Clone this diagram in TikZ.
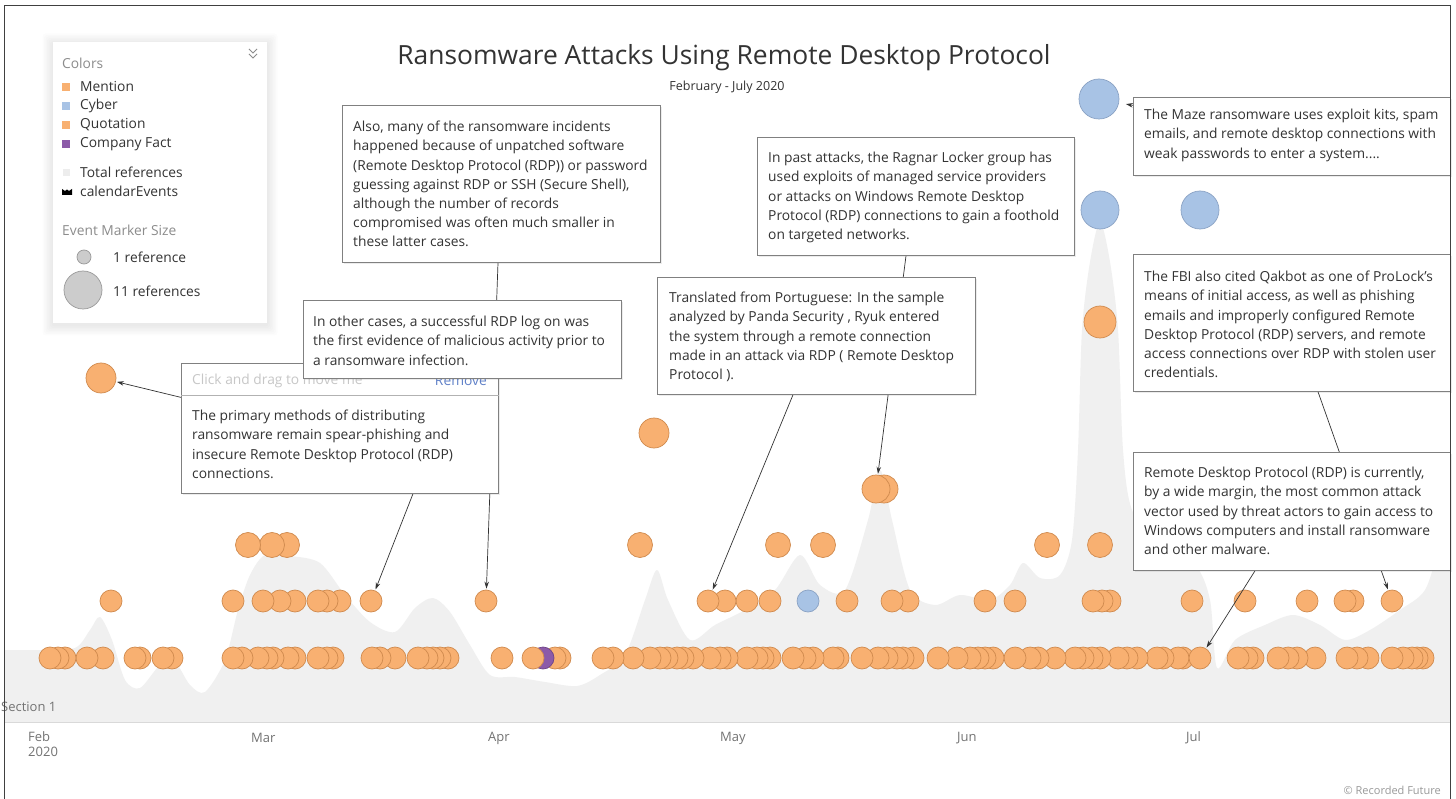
\documentclass[tikz,border=0pt]{standalone}
\usepackage{fontspec}
\setmainfont{Open Sans}
\usetikzlibrary{shadows,arrows.meta,calc}
\definecolor{org}{HTML}{F8B071}
\definecolor{orgd}{HTML}{D08A4E}
\definecolor{blu}{HTML}{A8C3E5}
\definecolor{blud}{HTML}{8AA2C4}
\definecolor{pur}{HTML}{8C5AA8}
\definecolor{purd}{HTML}{6E4488}
\definecolor{areag}{HTML}{F0F0F0}
\definecolor{txtc}{HTML}{333333}
\definecolor{grayt}{HTML}{8C8C8C}
\definecolor{remc}{HTML}{5F80C8}
\pgfdeclarelayer{bg}
\pgfdeclarelayer{lines}
\pgfsetlayers{bg,lines,main}
\begin{document}
\begin{tikzpicture}[x=1pt,y=-1pt,
  co/.style={circle,inner sep=0,draw=orgd,fill=org,line width=0.7pt,minimum size=22pt},
  cb/.style={circle,inner sep=0,draw=blud,fill=blu,line width=0.7pt,minimum size=22pt},
  cp/.style={circle,inner sep=0,draw=purd,fill=pur,line width=0.7pt,minimum size=22pt},
  callout/.style={draw=black!50,fill=white,line width=0.8pt,inner sep=0,anchor=north west,
    drop shadow={shadow xshift=1.2pt,shadow yshift=-1.2pt,opacity=0.15}},
  txt/.style={anchor=north west,inner sep=0,align=left,text=txtc,font=\fontsize{13.8}{19.2}\selectfont},
  ltxt/.style={anchor=west,inner sep=0,text=txtc,font=\fontsize{13.8}{16}\selectfont},
  gtxt/.style={anchor=west,inner sep=0,text=grayt,font=\fontsize{13.8}{16}\selectfont},
  mtxt/.style={anchor=west,inner sep=0,text=black!55,font=\fontsize{13}{15}\selectfont},
  lsq/.style={inner sep=0,minimum size=8pt},
  conn/.style={draw=black!80,line width=0.7pt},
  arr/.style={conn,-{Stealth[length=7pt,width=4.5pt]},shorten >=1pt}]
\useasboundingbox (0,0) rectangle (1456,799);

\begin{pgfonlayer}{bg}
\fill[white] (0,0) rectangle (1456,799);
% total references area
\fill[areag] (4,722) -- (4,650) -- plot[smooth,tension=0.5] coordinates {
 (40,650) (75,648) (90,630) (100,617) (112,640) (125,680) (140,688) (160,665) (175,662)
 (190,685) (205,692) (225,660) (238,610) (250,575) (265,555) (290,556) (320,563)
 (345,595) (370,622) (395,632) (415,608) (433,598) (450,612) (470,645) (490,675)
 (515,677) (545,682) (577,686) (600,675) (625,655) (645,600) (657,570) (668,600)
 (690,640) (715,625) (745,610) (775,590) (800,555) (820,585) (845,590) (868,520)
 (880,470) (892,520) (910,590) (935,605) (960,595) (990,600) (1010,585) (1023,563)
 (1040,578) (1060,575) (1072,540) (1078,450) (1082,330) (1090,262) (1100,222)
 (1110,262) (1118,330) (1123,450) (1132,510) (1160,548) (1195,565) (1210,600)
 (1217,668) (1235,640) (1265,625) (1293,615) (1320,625) (1345,640) (1370,630)
 (1400,610) (1425,590) (1440,545) (1450,525)}
 -- (1450,722) -- cycle;
\draw[black!15,line width=1pt] (4,722) -- (1450,722);

% bottom row
\foreach \x/\s in {1423/co,1417/co,1412/co,1403/co,1392/co,1368/co,1357/co,1347/co,1315/co,
 1297/co,1288/co,1278/co,1253/co,1247/co,1238/co,1183/co,1178/co,1163/co,1157/co,1137/co,
 1127/co,1118/co,1100/co,1092/co,1083/co,1075/co,1055/co,1038/co,1030/co,1015/co,993/co,
 985/co,978/co,970/co,957/co,938/co,913/co,903/co,897/co,887/co,878/co,862/co,838/co,
 833/co,813/co,805/co,793/co,770/co,763/co,757/co,747/co,727/co,720/co,710/co,693/co,
 683/co,677/co,667/co,660/co,650/co,633/co,613/co,603/co,560/co,555/co,543/cp,
 533/co,502/co,448/co,440/co,433/co,427/co,418/co,395/co,380/co,372/co,333/co,327/co,
 318/co,295/co,288/co,273/co,267/co,258/co,242/co,233/co,172/co,163/co,140/co,135/co,
 103/co,87/co,65/co,58/co,50/co}
  \node[\s] (bot\x) at (\x,658) {};
\node[co] (cJun) at (1200,658) {};
% middle row
\foreach \x/\s in {1353/co,1345/co,1307/co,1245/co,1192/co,1110/co,1102/co,1093/co,1015/co,
 985/co,908/co,892/co,847/co,808/cb,770/co,747/co,725/co,340/co,327/co,318/co,295/co,
 280/co,263/co,233/co,111/co}
  \node[\s] (mid\x) at (\x,601) {};
\node[co] (cJul) at (1392,601) {};
\node[co] (cMay) at (708,601) {};
\node[co] (cApr) at (486,601) {};
\node[co] (cMar) at (371,601) {};
% upper row
\foreach \x in {1100,1047,823,778,640,287,272,248}
  \node[co,minimum size=25pt] (up\x) at (\x,545) {};
% single markers
\node[co,minimum size=30pt] (cFeb) at (101,378) {};
\node[co,minimum size=30pt] (cApl) at (654,433) {};
\node[co,minimum size=28pt] (cRagb) at (884,489) {};
\node[co,minimum size=28pt] (cRag) at (876,489) {};
\node[co,minimum size=32pt] (cJunq) at (1100,322) {};
\node[cb,minimum size=38pt] (cJunb) at (1100,210) {};
\node[cb,minimum size=38pt] (cJulb) at (1200,210) {};
\node[cb,minimum size=40pt] (cMaze) at (1099,99) {};
\end{pgfonlayer}

% axis labels
\node[mtxt] (sec) at (1,707) {Section 1};
\node[mtxt,anchor=north west,align=left,font=\fontsize{13}{15}\selectfont] (feb) at (28,731) {Feb\\2020};
\node[mtxt] (mar) at (251,738) {Mar};
\node[mtxt] (apr) at (488,738) {Apr};
\node[mtxt] (may) at (720,738) {May};
\node[mtxt] (jun) at (957,738) {Jun};
\node[mtxt] (jul) at (1186,738) {Jul};
\node[anchor=east,inner sep=0,text=black!40,font=\fontsize{11}{13}\selectfont] (copy) at (1441,790) {© Recorded Future};

% title
\node[inner sep=0,text=txtc,font=\fontsize{26.4}{30}\selectfont] (title) at (724,58) {Ransomware Attacks Using Remote Desktop Protocol};
\node[inner sep=0,text=txtc,font=\fontsize{12.5}{15}\selectfont] (sub) at (727,87) {February - July 2020};

% legend
\foreach \i in {1,...,7}
  \fill[black,opacity=0.012,rounded corners=3pt] (53-1.5*\i,42-1.5*\i+2) rectangle (267+1.5*\i,323+1.5*\i+2);
\node[fill=white,inner sep=0,anchor=north west,minimum width=214pt,minimum height=281pt] (legend) at (53,42) {};
\draw[grayt,line width=0.8pt] (249,49) -- (253,53) -- (257,49) (249,54) -- (253,58) -- (257,54);
\node[gtxt] (lcol) at (62,63) {Colors};
\node[lsq,fill=org] (sqm) at (66,87) {};
\node[ltxt] (lm) at (80,87) {Mention};
\node[lsq,fill=blu] (sqc) at (66,106) {};
\node[ltxt] (lc) at (80,106) {Cyber};
\node[lsq,fill=org] (sqq) at (66,125) {};
\node[ltxt] (lq) at (80,125) {Quotation};
\node[lsq,fill=pur] (sqf) at (66,144) {};
\node[ltxt] (lf) at (80,144) {Company Fact};
\node[lsq,fill=black!7,minimum size=7pt] (sqt) at (66,173) {};
\node[ltxt] (lt) at (80,172) {Total references};
\fill[black] (62,195) -- (62,189) -- (65,191) -- (67,189.5) -- (69,191) -- (72,189) -- (72,195) -- cycle;
\node[ltxt] (le) at (80,191) {calendarEvents};
\node[gtxt] (lsz) at (62,230) {Event Marker Size};
\node[circle,inner sep=0,minimum size=14pt,fill=black!20,draw=black!40,line width=0.7pt] (s1) at (84,257) {};
\node[ltxt] (l1) at (113,257) {1 reference};
\node[circle,inner sep=0,minimum size=38pt,fill=black!20,draw=black!40,line width=0.7pt] (s11) at (83,290) {};
\node[ltxt] (l11) at (113,291) {11 references};

% callouts
\node[callout,minimum width=318pt,minimum height=157pt] (also) at (342,105) {};
\node[txt] (alsot) at (353,121) {Also, many of the ransomware incidents\\happened because of unpatched software\\(Remote Desktop Protocol (RDP)) or password\\guessing against RDP or SSH (Secure Shell),\\although the number of records\\compromised was often much smaller in\\these latter cases.};

\node[callout,minimum width=317pt,minimum height=118pt] (ragnar) at (757,137) {};
\node[txt] (ragnart) at (768,152) {In past attacks, the Ragnar Locker group has\\used exploits of managed service providers\\or attacks on Windows Remote Desktop\\Protocol (RDP) connections to gain a foothold\\on targeted networks.};

\node[callout,minimum width=317pt,minimum height=130pt] (click) at (181,363) {};
\node[anchor=west,inner sep=0,text=black!22,font=\fontsize{13.8}{16}\selectfont] (clickh) at (192,381) {Click and drag to move me};
\node[anchor=east,inner sep=0,text=remc,font=\fontsize{13.8}{16}\selectfont] (remove) at (487,381) {Remove};
\draw[black!30,line width=0.8pt] ([yshift=-32pt]click.north west) -- ([yshift=-32pt]click.north east);
\node[txt] (clickt) at (192,410) {The primary methods of distributing\\ransomware remain spear-phishing and\\insecure Remote Desktop Protocol (RDP)\\connections.};

\node[callout,minimum width=318pt,minimum height=78pt] (other) at (303,300) {};
\node[txt] (othert) at (313,316) {In other cases, a successful RDP log on was\\the first evidence of malicious activity prior to\\a ransomware infection.};

\node[callout,minimum width=318pt,minimum height=117pt] (trans) at (657,277) {};
\node[txt] (transt) at (669,292) {Translated from Portuguese: In the sample\\analyzed by Panda Security , Ryuk entered\\the system through a remote connection\\made in an attack via RDP ( Remote Desktop\\Protocol ).};

\node[callout,minimum width=317pt,minimum height=78pt] (maze) at (1133,97) {};
\node[txt] (mazet) at (1144,109) {The Maze ransomware uses exploit kits, spam\\emails, and remote desktop connections with\\weak passwords to enter a system....};

\node[callout,minimum width=317pt,minimum height=137pt] (fbi) at (1133,254) {};
\node[txt] (fbit) at (1144,271) {The FBI also cited Qakbot as one of ProLock's\\means of initial access, as well as phishing\\emails and improperly configured Remote\\Desktop Protocol (RDP) servers, and remote\\access connections over RDP with stolen user\\credentials.};

\node[callout,minimum width=317pt,minimum height=118pt] (rdp) at (1133,452) {};
\node[txt] (rdpt) at (1144,467) {Remote Desktop Protocol (RDP) is currently,\\by a wide margin, the most common attack\\vector used by threat actors to gain access to\\Windows computers and install ransomware\\and other malware.};

% connectors
\begin{pgfonlayer}{lines}
\draw[arr] ([xshift=156pt]also.south west) -- (cApr);
\draw[arr] ([xshift=155pt]other.south west) -- (cMar);
\draw[arr] ([yshift=31pt]click.west) -- (cFeb);
\draw[arr] ([xshift=149pt]ragnar.south west) -- (cRag);
\draw[arr] ([xshift=136pt]trans.south west) -- (cMay);
\draw[arr,shorten >=7pt] ([yshift=31pt]maze.west) -- (cMaze);
\draw[arr] ([xshift=185pt]fbi.south west) -- (cJul);
\draw[arr] ([xshift=122pt]rdp.south west) -- (cJun);
\end{pgfonlayer}

% frame
\draw[black!75,line width=1pt] (4,799) -- (4,6) -- (1450,6) -- (1450,799);
\end{tikzpicture}
\end{document}
